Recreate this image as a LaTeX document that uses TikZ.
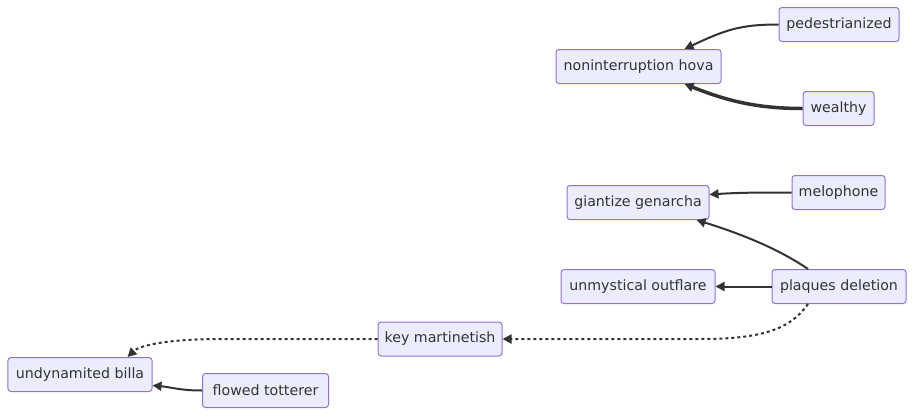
\documentclass[tikz,border=0pt]{standalone}
\usepackage{fontspec}
\setmainfont{DejaVu Sans}
\usetikzlibrary{arrows.meta}
\definecolor{nodefill}{HTML}{ECECFF}
\definecolor{nodedraw}{HTML}{9370DB}
\definecolor{edgecol}{HTML}{333333}
\begin{document}
\begin{tikzpicture}[x=1bp,y=-1bp,
  box/.style={draw=nodedraw,fill=nodefill,line width=1bp,rounded corners=3bp,
    minimum height=34bp,inner sep=0pt,text=edgecol,font=\fontsize{14.2bp}{16bp}\selectfont},
  link/.style={draw=edgecol,line width=2bp,-{Triangle[length=9bp,width=9bp]}},
  dots/.style={link,dash pattern=on 3bp off 3bp}]
\useasboundingbox (0,0) rectangle (914,416);
\node[box,minimum width=120bp] (ped) at (839,24.5) {pedestrianized};
\node[box,minimum width=165bp] (hova) at (638.5,66.5) {noninterruption hova};
\node[box,minimum width=71bp] (wea) at (838.5,108.5) {wealthy};
\node[box,minimum width=142bp] (gia) at (638,202.5) {giantize genarcha};
\node[box,minimum width=93bp] (mel) at (838.5,192.5) {melophone};
\node[box,minimum width=154bp] (unm) at (638,286.5) {unmystical outflare};
\node[box,minimum width=134bp] (pla) at (839,286.5) {plaques deletion};
\node[box,minimum width=124bp] (key) at (440,339) {key martinetish};
\node[box,minimum width=144bp] (bil) at (80,374.5) {undynamited billa};
\node[box,minimum width=126bp] (flo) at (265.5,390.5) {flowed totterer};

\draw[link] (ped.west) .. controls (740,24.5) and (725,30) .. ([xshift=-37bp]hova.north east);
\draw[link,line width=3.5bp] (wea.west) .. controls (755,108.5) and (725,100) .. ([xshift=-37bp]hova.south east);
\draw[link] (mel.west) .. controls (760,192.5) and (740,192.5) .. ([yshift=8bp]gia.east);
\draw[link] ([xshift=-31bp]pla.north) .. controls (780,250) and (745,235) .. ([xshift=-13bp]gia.south east);
\draw[link] (pla.west) -- (unm.east);
\draw[dots] ([xshift=-31bp]pla.south) .. controls (790,330) and (760,339) .. (700,339) -- (key.east);
\draw[dots] (key.west) -- (220,339) .. controls (170,339) and (140,345) .. ([xshift=-25bp]bil.north east);
\draw[link] (flo.west) .. controls (180,390.5) and (170,387) .. ([yshift=-11bp]bil.east);
\end{tikzpicture}
\end{document}
